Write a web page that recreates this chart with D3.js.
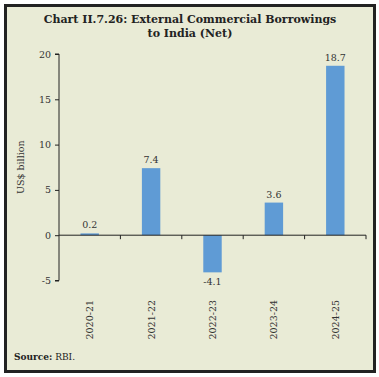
<!DOCTYPE html>
<html><head><meta charset="utf-8">
<script src="https://cdn.jsdelivr.net/npm/d3@7"></script>
<style>html,body{margin:0;padding:0;background:#fff;}svg{display:block;}</style>
</head><body>
<script>
const categories = ["2020-21","2021-22","2022-23","2023-24","2024-25"];
const values = [0.2, 7.4, -4.1, 3.6, 18.7];
const yTicks = [-5, 0, 5, 10, 15, 20];
const titleLines = ["Chart II.7.26: External Commercial Borrowings", "to India (Net)"];
const yLabel = "US$ billion";

const W = 379, H = 377;
const svg = d3.select("body").append("svg").attr("width", W).attr("height", H);
const serif = "'DejaVu Serif', serif";

svg.append("rect").attr("x", 5.5).attr("y", 5.5).attr("width", 369).attr("height", 366)
  .attr("fill", "#e9ebd6").attr("stroke", "#222").attr("stroke-width", 3);

const x = d3.scaleBand().domain(categories).range([59, 366]).paddingInner(0.7).paddingOuter(0.35);
const y = d3.scaleLinear().domain([-5, 20]).range([280.5, 54]);

svg.selectAll(".t").data(titleLines).enter().append("text")
  .attr("x", 190).attr("y", (d, i) => 23 + i * 14)
  .attr("text-anchor", "middle").attr("font-family", serif).attr("font-weight", "bold")
  .attr("font-size", "11px").attr("fill", "#222").text(d => d);

// y axis
const yAxis = svg.append("g").attr("transform", "translate(59,0)")
  .call(d3.axisLeft(y).tickValues(yTicks).tickSize(4).tickFormat(d => String(d)));
yAxis.select(".domain").attr("stroke", "#222").attr("d", `M-4,${y(20)}H0V${y(-5)}H-4`);
yAxis.selectAll(".tick line").attr("stroke", "#222");
yAxis.selectAll("text").attr("font-family", serif).attr("font-size", "9.5px").attr("fill", "#333").attr("x", -8);

svg.append("text").attr("transform", `translate(24,${(y(20)+y(-5))/2}) rotate(-90)`)
  .attr("text-anchor", "middle").attr("font-family", serif).attr("font-size", "9.5px")
  .attr("fill", "#333").text(yLabel);

// bars
svg.selectAll(".bar").data(values).enter().append("rect")
  .attr("x", (d, i) => x(categories[i]))
  .attr("width", x.bandwidth())
  .attr("y", d => y(Math.max(0, d)))
  .attr("height", d => Math.abs(y(d) - y(0)))
  .attr("fill", "#5f9bd5");

// zero axis with category ticks
const xAxis = svg.append("g").attr("transform", `translate(0,${y(0)})`)
  .call(d3.axisBottom(x).tickSize(0).tickFormat(""));
xAxis.select(".domain").attr("stroke", "#222").attr("d", "M59,0H366");
const bounds = categories.map((c, i) => 59 + (i + 1) * (366 - 59) / categories.length);
svg.selectAll(".ct").data(bounds).enter().append("line")
  .attr("x1", d => d).attr("x2", d => d).attr("y1", y(0)).attr("y2", y(0) + 4)
  .attr("stroke", "#222");

// value labels
svg.selectAll(".vl").data(values).enter().append("text")
  .attr("x", (d, i) => x(categories[i]) + x.bandwidth() / 2)
  .attr("y", d => d >= 0 ? y(d) - 5 : y(d) + 13)
  .attr("text-anchor", "middle").attr("font-family", serif).attr("font-size", "9.5px")
  .attr("fill", "#333").text(d => d.toFixed(1));

// category labels
svg.selectAll(".cl").data(categories).enter().append("text")
  .attr("transform", d => `translate(${x(d) + x.bandwidth() / 2 + 3.5},300) rotate(-90)`)
  .attr("text-anchor", "end").attr("font-family", serif).attr("font-size", "9.5px")
  .attr("fill", "#333").text(d => d);

// source
const src = svg.append("text").attr("x", 14).attr("y", 360).attr("font-family", serif)
  .attr("font-size", "9px").attr("fill", "#222");
src.append("tspan").attr("font-weight", "bold").text("Source:");
src.append("tspan").text(" RBI.");
</script>
</body></html>
